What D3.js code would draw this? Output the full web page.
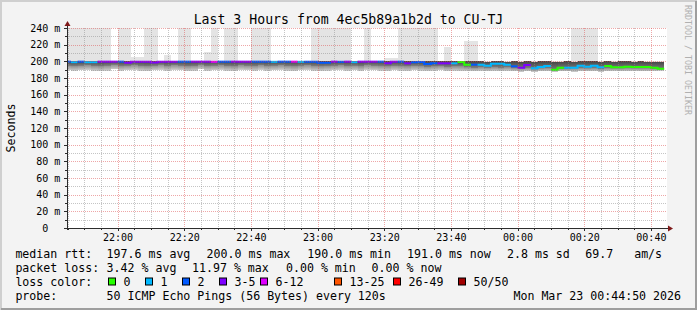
<!DOCTYPE html>
<html>
<head>
<meta charset="utf-8">
<script src="https://cdn.jsdelivr.net/npm/d3@7"></script>
<style>
  html, body { margin: 0; padding: 0; background: #f3f3f3; }
  svg { display: block; font-family: "DejaVu Sans Mono", monospace; }
  text { white-space: pre; }
</style>
</head>
<body>
<script>
// ---- data, one value per 120 s sample starting 21:44 ----
const median = [
  199.6, 199.0, 199.6, 199.0, 199.0, 199.6, 199.6, 199.6, 199.6, 198.4,
  199.6, 199.6, 199.6, 198.6, 199.6, 199.6, 199.6, 199.6, 199.6, 199.6,
  199.6, 199.6, 199.4, 199.6, 199.6, 199.6, 199.6, 199.6, 199.6, 199.6,
  199.6, 199.4, 199.6, 199.6, 199.6, 199.4, 199.6, 199.6, 198.4, 198.4,
  199.6, 199.4, 199.6, 199.0, 199.6, 199.6, 199.6, 199.6, 197.6, 199.6,
  199.6, 197.6, 198.8, 199.2, 196.8, 197.6, 197.6, 197.6, 197.6, 199.2,
  196.0, 196.0, 196.0, 194.8, 197.0, 197.0, 196.0, 194.0, 192.4, 195.6,
  191.6, 193.2, 194.4, 190.0, 192.4, 192.4, 192.4, 194.8, 193.6, 194.8,
  192.8, 194.4, 192.8, 192.8, 193.6, 193.2, 193.2, 193.2, 192.4, 191.0
]
const lossPct = [
  4, 2, 4, 2, 2, 6, 8, 6, 4, 6,
  6, 8, 6, 6, 6, 6, 8, 4, 4, 6,
  6, 8, 12, 4, 4, 6, 6, 6, 4, 4,
  4, 2, 4, 4, 12, 2, 4, 4, 4, 4,
  6, 4, 6, 2, 6, 6, 6, 4, 6, 8,
  4, 6, 4, 4, 4, 4, 6, 6, 2, 0,
  0, 4, 2, 2, 2, 2, 2, 4, 6, 6,
  2, 2, 2, 0, 0, 2, 2, 2, 2, 2,
  2, 0, 0, 0, 0, 0, 0, 0, 0, 0
]
const minRtt = [
  189.5, 189, 189.5, 190, 189, 188.5, 189, 190.5, 189, 189.5,
  190, 189, 188.5, 189.5, 190, 189, 190, 189.5, 188.5, 189,
  190.5, 189, 189.5, 190, 189, 188.5, 190, 189.5, 189, 190,
  189, 189.5, 190, 189, 188.5, 189.5, 190, 189, 188.5, 189,
  189.5, 190, 189, 189.5, 188.5, 190, 189.5, 189, 188.5, 189.5,
  189, 188.5, 189.5, 189, 188.5, 189, 189.5, 188.5, 189, 188.5,
  188.5, 188, 188.5, 188, 188.5, 188, 188.5, 188, 187.5, 188,
  187.5, 188, 188, 187.5, 188, 188, 187.5, 188, 188, 188,
  187.5, 188, 188.5, 188, 188, 188.5, 188, 188, 188.5, 189
]
const lowerRtt = [
  195, 194.5, 195, 195.5, 194.5, 194, 195, 196, 194.5, 195,
  195.5, 194.5, 194, 195, 196, 194.5, 195.5, 195, 194, 194.5,
  196, 194.5, 195, 195.5, 194.5, 194, 195.5, 195, 194.5, 195.5,
  194.5, 195, 195.5, 194.5, 194, 195, 195.5, 194.5, 194, 194.5,
  195, 195.5, 194.5, 195, 194, 195.5, 195, 194.5, 194, 195,
  194.5, 194, 195, 194.5, 193.5, 194, 194.5, 193.5, 194, 194,
  193, 192.5, 193, 192.5, 193, 192.5, 193, 192, 191.5, 192,
  190.5, 191.5, 192, 189.5, 191, 191, 191.5, 192, 191.5, 192,
  191, 192, 191.5, 191.5, 192, 191.5, 191.5, 191.5, 191, 190.5
]
const upperRtt = [
  200.2, 200.2, 200.2, 200.2, 200.2, 200.2, 200.2, 200.2, 200.2, 200.2,
  200.2, 200.2, 200.2, 200.2, 200.2, 200.2, 200.2, 200.2, 200.2, 200.2,
  200.2, 200.2, 200.2, 200.2, 200.2, 200.2, 200.2, 200.2, 200.2, 200.2,
  200.2, 200.2, 200.2, 200.2, 200.2, 200.2, 200.2, 200.2, 200.2, 200.2,
  200.2, 200.2, 200.2, 200.2, 200.2, 200.2, 200.2, 200.2, 200.2, 200.2,
  200.2, 200.2, 200.2, 200.2, 200.2, 200.2, 200.2, 200.2, 200.2, 200.2,
  200.2, 200.2, 200, 199.8, 200, 200, 199.8, 200, 199.6, 200,
  199.6, 200, 200, 199.4, 199.8, 200, 199.8, 200.2, 200, 200,
  199.8, 200, 199.8, 200, 200, 199.8, 200, 199.8, 199.6, 199.6
]
const maxRtt = [
  300, 300, 300, 300, 300, 300, 300, 201, 300, 300,
  205, 205, 300, 300, 201, 208, 201, 300, 300, 201,
  201, 211, 300, 201, 300, 300, 201, 201, 300, 300,
  300, 201, 201, 201, 201, 201, 201, 300, 300, 300,
  300, 300, 300, 201, 201, 300, 201, 201, 203.5, 203.5,
  300, 300, 300, 300, 300, 300, 201, 217, 201, 201,
  225, 225, 201, 201, 201, 201, 201, 201, 201, 201,
  201, 201, 201, 201, 201, 201, 300, 300, 300, 300,
  201, 201, 201, 201, 201, 201, 201, 201, 201, 201
]

const yTicks = [0, 20, 40, 60, 80, 100, 120, 140, 160, 180, 200, 220, 240]
const yTickLabels = ['0  ', '20 m', '40 m', '60 m', '80 m', '100 m', '120 m', '140 m', '160 m', '180 m', '200 m', '220 m', '240 m']
const lossLabels = ['0', '1', '2', '3-5', '6-12', '13-25', '26-49', '50/50']
const lossColors = ['#26ff00', '#00b8ff', '#0059ff', '#7e00ff', '#dd00ff', '#ff5500', '#ff0000', '#a10000']
const rttStats = ['197.6 ms avg', '200.0 ms max', '190.0 ms min', '191.0 ms now', '2.8 ms sd', '69.7   am/s']
const lossStats = ['3.42 % avg', '11.97 % max', '0.00 % min', '0.00 % now']
const title = 'Last 3 Hours from 4ec5b89a1b2d to CU-TJ'
const probeText = '50 ICMP Echo Pings (56 Bytes) every 120s'
const stamp = 'Mon Mar 23 00:44:50 2026'

const W = 697
const H = 310
const plot = { left: 67, right: 667, top: 28, bottom: 228 }
const T0 = new Date(2026, 2, 22, 21, 44, 50)
const T1 = new Date(2026, 2, 23, 0, 44, 50)
const SAMPLE0 = new Date(2026, 2, 22, 21, 44, 0)
const STEP = 120 * 1000
const sampleTime = i => new Date(SAMPLE0.getTime() + i * STEP)

const lossColor = pct => {
  const n = Math.round(pct * 50 / 100)
  if (n === 0) return lossColors[0]
  if (n === 1) return lossColors[1]
  if (n === 2) return lossColors[2]
  if (n <= 5) return lossColors[3]
  if (n <= 12) return lossColors[4]
  if (n <= 25) return lossColors[5]
  if (n <= 49) return lossColors[6]
  return lossColors[7]
}

// ---- scales ----
const x = d3.scaleTime().domain([T0, T1]).range([plot.left, plot.right])
const y = d3.scaleLinear().domain([0, 240]).range([plot.bottom, plot.top])
const px = v => Math.round(v) + 0.5

const svg = d3.select('body').append('svg')
  .attr('width', W)
  .attr('height', H)
  .attr('viewBox', [0, 0, W, H].join(' '))

const defs = svg.append('defs')
defs.append('clipPath').attr('id', 'plotClip')
  .append('rect')
  .attr('x', plot.left).attr('y', plot.top)
  .attr('width', plot.right - plot.left).attr('height', plot.bottom - plot.top)

const grad = (id, bottom, top) => {
  const g = defs.append('linearGradient').attr('id', id)
    .attr('x1', 0).attr('y1', 1).attr('x2', 0).attr('y2', 0)
  g.append('stop').attr('offset', 0).attr('stop-color', bottom)
  g.append('stop').attr('offset', 1).attr('stop-color', top)
}
grad('lowSmoke', '#cbcbcb', '#8e8e8e')
grad('midSmoke', '#7c7c7c', '#444444')

// background + 3d frame
svg.append('rect').attr('width', W).attr('height', H).attr('fill', '#f3f3f3')
svg.append('path').attr('d', `M1,${H} V1 H${W}`).attr('stroke', '#cfcfcf').attr('stroke-width', 2).attr('fill', 'none')
svg.append('path').attr('d', `M1,${H - 1} H${W - 1} V1`).attr('stroke', '#9e9e9e').attr('stroke-width', 2).attr('fill', 'none')

// canvas
svg.append('rect')
  .attr('x', plot.left).attr('y', plot.top)
  .attr('width', plot.right - plot.left).attr('height', plot.bottom - plot.top)
  .attr('fill', '#ffffff')

// ---- smoke ----
const g = svg.append('g').attr('clip-path', 'url(#plotClip)')
const idx = d3.range(median.length)
const band = (lo, hi, fill) => {
  g.append('g').selectAll('rect')
    .data(idx)
    .join('rect')
    .attr('x', i => x(sampleTime(i)))
    .attr('width', i => x(sampleTime(i + 1)) - x(sampleTime(i)))
    .attr('y', i => y(Math.min(hi[i], 260)))
    .attr('height', i => Math.max(0, y(lo[i]) - y(Math.min(hi[i], 260))))
    .attr('fill', fill)
    .attr('shape-rendering', 'crispEdges')
}
band(upperRtt, maxRtt, '#e4e4e4')
band(minRtt, lowerRtt, 'url(#lowSmoke)')
band(lowerRtt, upperRtt, 'url(#midSmoke)')

// ---- median line coloured by loss ----
const runs = []
idx.forEach(i => {
  const c = lossColor(lossPct[i])
  const last = runs[runs.length - 1]
  if (last && last.color === c) last.items.push(i)
  else runs.push({ color: c, items: [i] })
})
const line = d3.line().x(d => x(d[0])).y(d => y(d[1])).curve(d3.curveStepAfter)
runs.forEach(r => {
  const pts = r.items.map(i => [sampleTime(i), median[i]])
  const end = r.items[r.items.length - 1]
  pts.push([sampleTime(end + 1), median[end]])
  g.append('path')
    .attr('d', line(pts))
    .attr('fill', 'none')
    .attr('stroke', r.color)
    .attr('stroke-width', 2)
})

// ---- grid ----
const grid = svg.append('g').attr('fill', 'none').attr('stroke-dasharray', '1,1')
const minorY = d3.range(10, 240, 20)
grid.selectAll('.minor-y').data(minorY).join('line')
  .attr('x1', plot.left).attr('x2', plot.right)
  .attr('y1', v => px(y(v))).attr('y2', v => px(y(v)))
  .attr('stroke', 'rgba(140,140,140,0.5)')
grid.selectAll('.major-y').data(yTicks.filter(v => v > 0)).join('line')
  .attr('x1', plot.left).attr('x2', plot.right)
  .attr('y1', v => px(y(v))).attr('y2', v => px(y(v)))
  .attr('stroke', 'rgba(222,80,80,0.5)')

const allMinutes = d3.timeMinute.every(5).range(T0, T1)
const majorX = allMinutes.filter(d => d.getMinutes() % 20 === 0)
const minorX = allMinutes.filter(d => d.getMinutes() % 20 !== 0)
grid.selectAll('.minor-x').data(minorX).join('line')
  .attr('x1', d => px(x(d))).attr('x2', d => px(x(d)))
  .attr('y1', plot.top).attr('y2', plot.bottom)
  .attr('stroke', 'rgba(140,140,140,0.5)')
grid.selectAll('.major-x').data(majorX).join('line')
  .attr('x1', d => px(x(d))).attr('x2', d => px(x(d)))
  .attr('y1', plot.top).attr('y2', plot.bottom)
  .attr('stroke', 'rgba(222,80,80,0.5)')

// ---- axes ----
const axisColor = '#2c2c2c'
const ax = svg.append('g').attr('stroke', axisColor).attr('fill', 'none')
ax.append('line').attr('x1', plot.left - 2).attr('x2', plot.right + 2)
  .attr('y1', plot.bottom + 0.5).attr('y2', plot.bottom + 0.5)
ax.append('line').attr('x1', plot.left + 0.5).attr('x2', plot.left + 0.5)
  .attr('y1', plot.bottom + 2).attr('y2', plot.top - 4)
ax.selectAll('.ty').data(yTicks).join('line')
  .attr('x1', plot.left - 3).attr('x2', plot.left)
  .attr('y1', v => px(y(v))).attr('y2', v => px(y(v)))
ax.selectAll('.tym').data(minorY).join('line')
  .attr('x1', plot.left - 2).attr('x2', plot.left)
  .attr('y1', v => px(y(v))).attr('y2', v => px(y(v)))
ax.selectAll('.tx').data(majorX).join('line')
  .attr('x1', d => px(x(d))).attr('x2', d => px(x(d)))
  .attr('y1', plot.bottom).attr('y2', plot.bottom + 3)
ax.selectAll('.txm').data(minorX).join('line')
  .attr('x1', d => px(x(d))).attr('x2', d => px(x(d)))
  .attr('y1', plot.bottom).attr('y2', plot.bottom + 2)

// arrows
const arrowColor = '#7f1a1a'
svg.append('path')
  .attr('d', `M${plot.left - 2.5},${plot.top - 2} L${plot.left + 0.5},${plot.top - 7} L${plot.left + 3.5},${plot.top - 2} Z`)
  .attr('fill', arrowColor)
svg.append('path')
  .attr('d', `M${plot.right + 1},${plot.bottom - 2.5} L${plot.right + 6},${plot.bottom + 0.5} L${plot.right + 1},${plot.bottom + 3.5} Z`)
  .attr('fill', arrowColor)

// tick labels
svg.append('g').selectAll('text').data(yTicks).join('text')
  .attr('x', 60.3)
  .attr('y', v => y(v) + 3.6)
  .attr('text-anchor', 'end')
  .attr('font-size', 10)
  .attr('fill', '#000')
  .text((v, i) => yTickLabels[i])

svg.append('g').selectAll('text').data(majorX).join('text')
  .attr('x', d => x(d) + 0.5)
  .attr('y', 241)
  .attr('text-anchor', 'middle')
  .attr('font-size', 10)
  .attr('fill', '#000')
  .text(d3.timeFormat('%H:%M'))

// title, unit, watermark
svg.append('text')
  .attr('x', 348.5).attr('y', 24)
  .attr('text-anchor', 'middle')
  .attr('font-size', 13.2)
  .text(title)

svg.append('text')
  .attr('transform', `translate(14.5, ${(plot.top + plot.bottom) / 2}) rotate(-90)`)
  .attr('text-anchor', 'middle')
  .attr('font-size', 11.6)
  .text('Seconds')

svg.append('text')
  .attr('transform', 'translate(684.8, 5) rotate(90)')
  .attr('font-size', 8.3)
  .attr('fill', '#b0b0b0')
  .text('RRDTOOL / TOBI OETIKER')

// ---- legend ----
const leg = svg.append('g').attr('font-size', 11.6).attr('fill', '#000')
const put = (xPos, yPos, str, anchor) => leg.append('text')
  .attr('x', xPos).attr('y', yPos)
  .attr('text-anchor', anchor || 'start')
  .text(str)

const rows = [257.5, 271.5, 285.5, 299.5]
const rttX = [106.6, 206.6, 307.3, 407, 507, 585.3]
const lossX = [106.6, 192, 286, 371.6]
put(15.4, rows[0], 'median rtt:')
rttStats.forEach((s, i) => put(rttX[i], rows[0], s))
put(15.4, rows[1], 'packet loss:')
lossStats.forEach((s, i) => put(lossX[i], rows[1], s))
put(15.4, rows[2], 'loss color:')

const swatchX = [108.5, 145.5, 182.5, 219.5, 260.5, 334.5, 393.5, 458.5]
lossLabels.forEach((s, i) => {
  leg.append('rect')
    .attr('x', swatchX[i]).attr('y', rows[2] - 7.5)
    .attr('width', 7).attr('height', 7)
    .attr('fill', lossColors[i])
    .attr('stroke', '#000').attr('stroke-width', 1)
  put(swatchX[i] + 15, rows[2], s)
})

put(15.4, rows[3], 'probe:')
put(106.6, rows[3], probeText)
put(681, rows[3], stamp, 'end')
</script>
</body>
</html>
